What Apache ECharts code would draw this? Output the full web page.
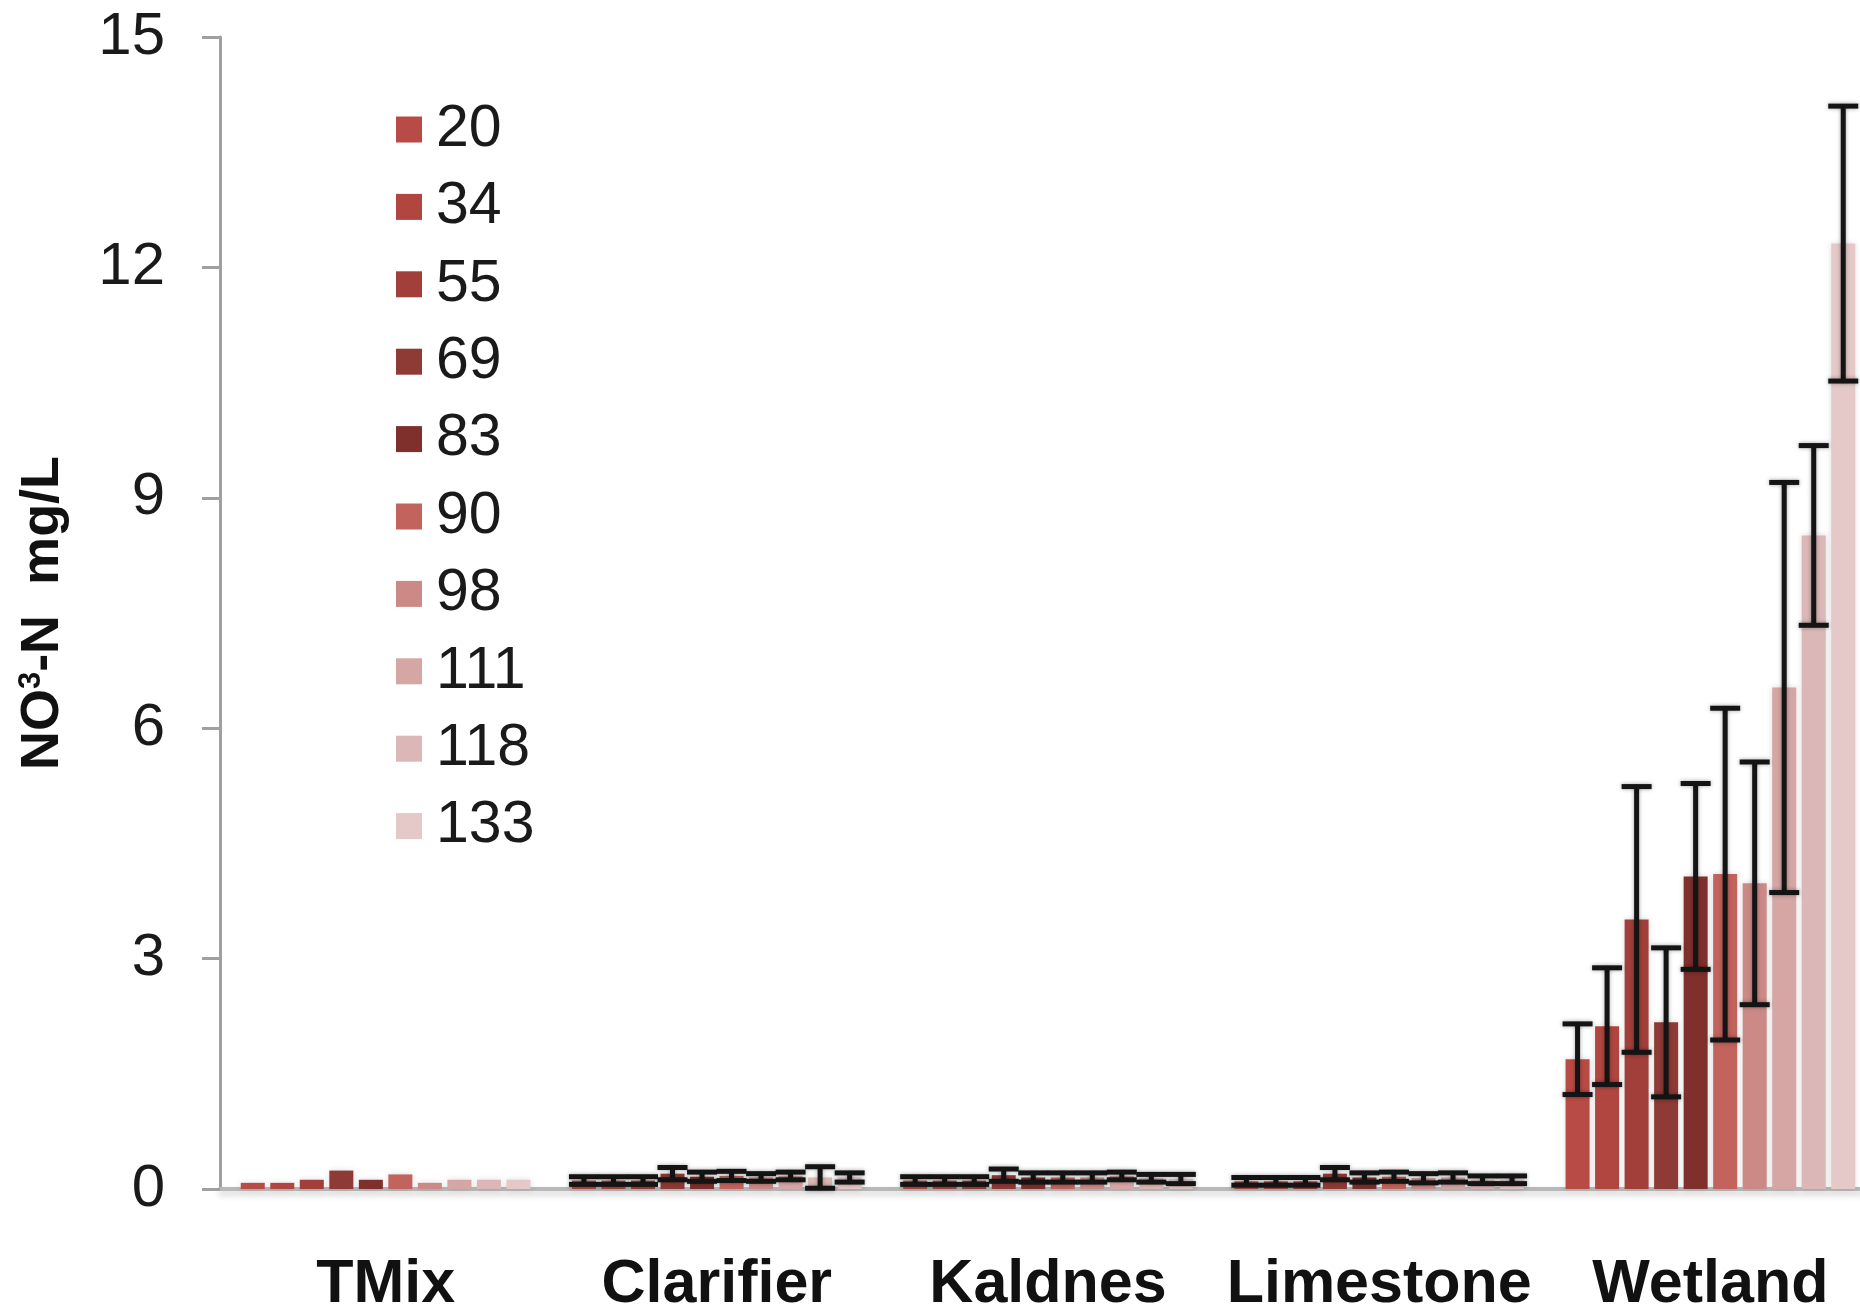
<!DOCTYPE html>
<html>
<head>
<meta charset="utf-8">
<script src="https://cdn.jsdelivr.net/npm/echarts@6/dist/echarts.min.js"></script>
<style>
  html, body { margin: 0; padding: 0; background: #fff; }
  #chart { width: 1860px; height: 1310px; }
</style>
</head>
<body>
<div id="chart"></div>
<script>
const categories = ['TMix', 'Clarifier', 'Kaldnes', 'Limestone', 'Wetland'];
const days = ['20', '34', '55', '69', '83', '90', '98', '111', '118', '133'];
const dayColors = ['#b94b46', '#b0463f', '#a23f3a', '#8e3a35', '#7f302d', '#c3635d', '#cc8a87', '#d5a6a4', '#dbb8b7', '#e5c9c9'];
const yTicks = [0, 3, 6, 9, 12, 15];

// mean NO3-N per day, one array per treatment
const tmixMean = [0.08, 0.08, 0.12, 0.24, 0.12, 0.19, 0.08, 0.12, 0.12, 0.12];
const clarifierMean = [0.11, 0.11, 0.11, 0.2, 0.16, 0.17, 0.15, 0.17, 0.15, 0.15];
const kaldnesMean = [0.11, 0.11, 0.11, 0.18, 0.15, 0.15, 0.15, 0.17, 0.14, 0.13];
const limestoneMean = [0.1, 0.1, 0.1, 0.2, 0.15, 0.16, 0.14, 0.15, 0.12, 0.12];
const wetlandMean = [1.69, 2.12, 3.51, 2.17, 4.07, 4.1, 3.98, 6.53, 8.51, 12.31];

// error bar half-lengths
const tmixErr = [0, 0, 0, 0, 0, 0, 0, 0, 0, 0];
const clarifierErr = [0.05, 0.05, 0.05, 0.08, 0.06, 0.06, 0.05, 0.05, 0.14, 0.06];
const kaldnesErr = [0.05, 0.05, 0.05, 0.08, 0.06, 0.06, 0.06, 0.05, 0.05, 0.06];
const limestoneErr = [0.05, 0.05, 0.05, 0.08, 0.06, 0.06, 0.06, 0.06, 0.05, 0.05];
const wetlandErr = [0.46, 0.76, 1.73, 0.97, 1.21, 2.16, 1.58, 2.67, 1.17, 1.79];

const means = [tmixMean, clarifierMean, kaldnesMean, limestoneMean, wetlandMean];
const errs = [tmixErr, clarifierErr, kaldnesErr, limestoneErr, wetlandErr];

const FONT = "'Liberation Sans', Arial, sans-serif";
const BAR_W = 24;
const BAR_GAP = 0.23;
const PITCH = BAR_W * (1 + BAR_GAP);

const chart = echarts.init(document.getElementById('chart'));

const barSeries = days.map((d, k) => ({
  name: d,
  type: 'bar',
  data: means.map(m => m[k]),
  barWidth: BAR_W,
  barGap: (BAR_GAP * 100) + '%',
  itemStyle: {
    color: dayColors[k],
    shadowColor: 'rgba(0,0,0,0.14)',
    shadowBlur: 6
  },
  z: 2
}));

const errSeries = days.map((d, k) => ({
  type: 'custom',
  data: means.map((m, i) => [i, m[k], errs[i][k]]),
  z: 5,
  silent: true,
  renderItem: (params, api) => {
    const err = api.value(2);
    if (!err) return null;
    const mean = api.value(1);
    const hi = api.coord([api.value(0), mean + err]);
    const lo = api.coord([api.value(0), mean - err]);
    const x = hi[0] + (k - 4.5) * PITCH;
    const cap = 15;
    const style = { stroke: '#141414', lineWidth: 5, shadowColor: 'rgba(0,0,0,0.35)', shadowBlur: 4 };
    return {
      type: 'group',
      children: [
        { type: 'line', shape: { x1: x, y1: hi[1], x2: x, y2: lo[1] }, style },
        { type: 'line', shape: { x1: x - cap, y1: hi[1], x2: x + cap, y2: hi[1] }, style },
        { type: 'line', shape: { x1: x - cap, y1: lo[1], x2: x + cap, y2: lo[1] }, style }
      ]
    };
  }
}));

chart.setOption({
  animation: false,
  backgroundColor: '#ffffff',
  grid: { left: 220, top: 37, width: 1656, bottom: 121, containLabel: false, outerBoundsMode: 'none' },
  legend: {
    data: days,
    orient: 'vertical',
    left: 391,
    top: 95,
    icon: 'rect',
    itemWidth: 26,
    itemHeight: 26,
    itemGap: 18.4,
    selectedMode: false,
    textStyle: { fontFamily: FONT, fontSize: 59, color: '#1a1a1a', lineHeight: 44, padding: [0, 0, 0, 9] }
  },
  xAxis: {
    type: 'category',
    data: categories,
    axisTick: { show: false },
    axisLine: {
      lineStyle: { color: '#b8b8b8', width: 4, shadowColor: 'rgba(0,0,0,0.2)', shadowBlur: 6, shadowOffsetY: 4 }
    },
    axisLabel: {
      interval: 0,
      hideOverlap: false,
      fontFamily: FONT,
      fontWeight: 'bold',
      fontSize: 61,
      lineHeight: 61,
      color: '#111',
      margin: 66
    }
  },
  yAxis: {
    type: 'value',
    min: yTicks[0],
    max: yTicks[yTicks.length - 1],
    interval: 3,
    splitLine: { show: false },
    axisLine: { show: true, lineStyle: { color: '#a0a0a0', width: 3 } },
    axisTick: { show: true, length: 18, lineStyle: { color: '#a0a0a0', width: 3 } },
    axisLabel: { fontFamily: FONT, fontSize: 60, color: '#1a1a1a', margin: 55 },
    name: '{a|NO}{s|3}{a|-N  mg/L}',
    nameLocation: 'middle',
    nameRotate: 90,
    nameGap: 150,
    nameTextStyle: {
      rich: {
        a: { fontFamily: FONT, fontWeight: 'bold', fontSize: 54, color: '#111' },
        s: { fontFamily: FONT, fontWeight: 'bold', fontSize: 31, color: '#111', verticalAlign: 'top', padding: [0, 0, 22, 0] }
      }
    }
  },
  series: barSeries.concat(errSeries)
});
</script>
</body>
</html>
